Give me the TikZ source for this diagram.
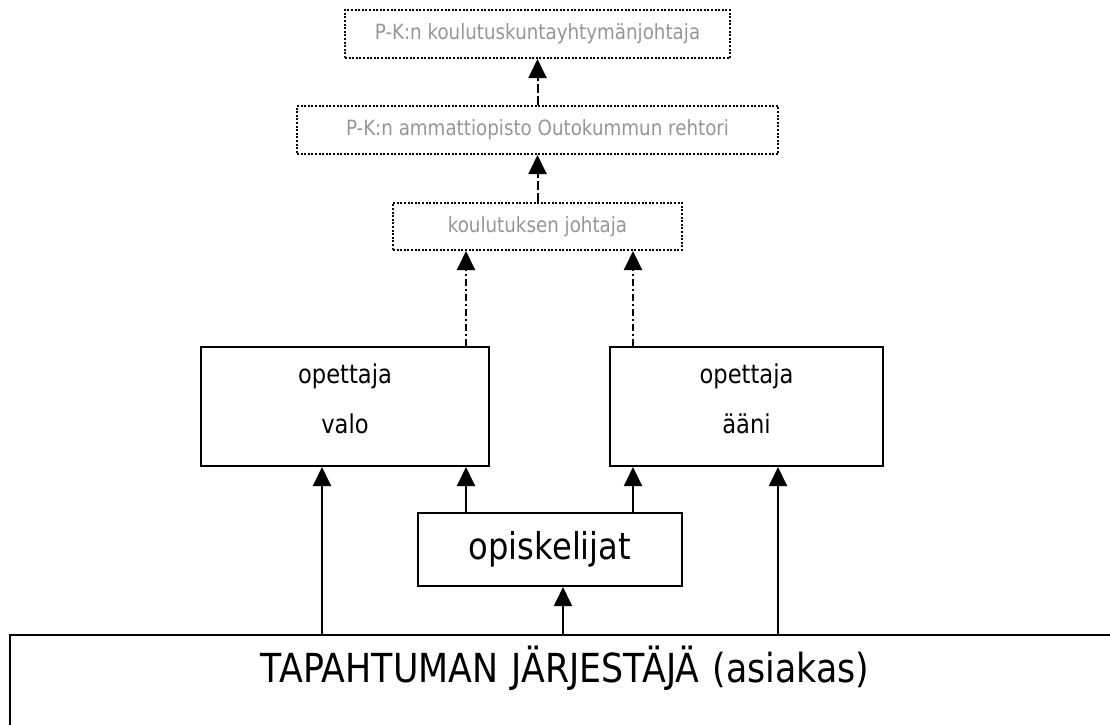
\documentclass[tikz,border=0pt]{standalone}
\usepackage{fontspec}
\setmainfont[FakeStretch=0.87]{DejaVu Sans}
\usetikzlibrary{arrows.meta}
\definecolor{paletxt}{RGB}{150,150,150}
\tikzset{
  x=1pt, y=-1pt,
  solidbox/.style={draw=black, line width=2pt, inner sep=0pt, align=center},
  dotbox/.style={draw=black, line width=2pt, dash pattern=on 2pt off 1.6pt,
    inner sep=0pt, text=paletxt, font=\fontsize{21}{25}\selectfont},
  teacher/.style={solidbox, minimum height=119pt},
  teachertext/.style={align=center, yshift=8pt, font=\fontsize{26}{50}\selectfont},
  tip/.style={-{Triangle[width=18pt,length=19pt]}},
  link/.style={tip, line width=1.9pt},
  dashlink/.style={tip, line width=2pt, dash pattern=on 9pt off 3pt},
  dotdashlink/.style={tip, line width=2pt, dash pattern=on 7pt off 3pt on 2pt off 3pt},
}
\begin{document}
\begin{tikzpicture}
\useasboundingbox (0,0) rectangle (1110,724);
\clip (0,0) rectangle (1110,724);

% management chain
\node[dotbox, minimum width=385pt, minimum height=48pt] (head) at (537.5,34)
  {P-K:n koulutuskuntayhtymänjohtaja};
\node[dotbox, minimum width=481pt, minimum height=48pt] (rector) at (537.5,130)
  {P-K:n ammattiopisto Outokummun rehtori};
\node[dotbox, minimum width=289pt, minimum height=47pt] (director) at (537.5,226.5)
  {koulutuksen johtaja};

% teachers
\node[teacher, minimum width=288pt,
  label={[teachertext]center:opettaja\\valo}] (light) at (345,406.5) {};
\node[teacher, minimum width=273pt,
  label={[teachertext]center:opettaja\\ääni}] (sound) at (746.5,406.5) {};

% students
\node[solidbox, minimum width=264pt, minimum height=73pt,
  font=\fontsize{37}{42}\selectfont] (students) at (550,549.5) {opiskelijat};

% customer, running past the lower right edge
\node[solidbox, anchor=north west, text width=1110pt, inner ysep=0pt,
  font=\fontsize{40}{46}\selectfont, text height=47pt, text depth=120pt]
  (client) at (9,634) {TAPAHTUMAN JÄRJESTÄJÄ (asiakas)};

% reporting lines
\draw[dashlink] (rector.north) -- (head.south);
\draw[dashlink] (director.north) -- (rector.south);
\draw[dotdashlink] ([xshift=121pt]light.north) -- ([xshift=121pt]light.north |- director.south);
\draw[dotdashlink] ([xshift=-113.5pt]sound.north) -- ([xshift=-113.5pt]sound.north |- director.south);

% students to teachers
\draw[link] ([xshift=-84pt]students.north) -- ([xshift=-84pt]students.north |- light.south);
\draw[link] ([xshift=83pt]students.north) -- ([xshift=83pt]students.north |- sound.south);

% customer to everyone
\draw[link] ([xshift=-23pt]light.south |- client.north) -- ([xshift=-23pt]light.south);
\draw[link] ([xshift=13pt]students.south |- client.north) -- ([xshift=13pt]students.south);
\draw[link] ([xshift=31.5pt]sound.south |- client.north) -- ([xshift=31.5pt]sound.south);
\end{tikzpicture}
\end{document}
